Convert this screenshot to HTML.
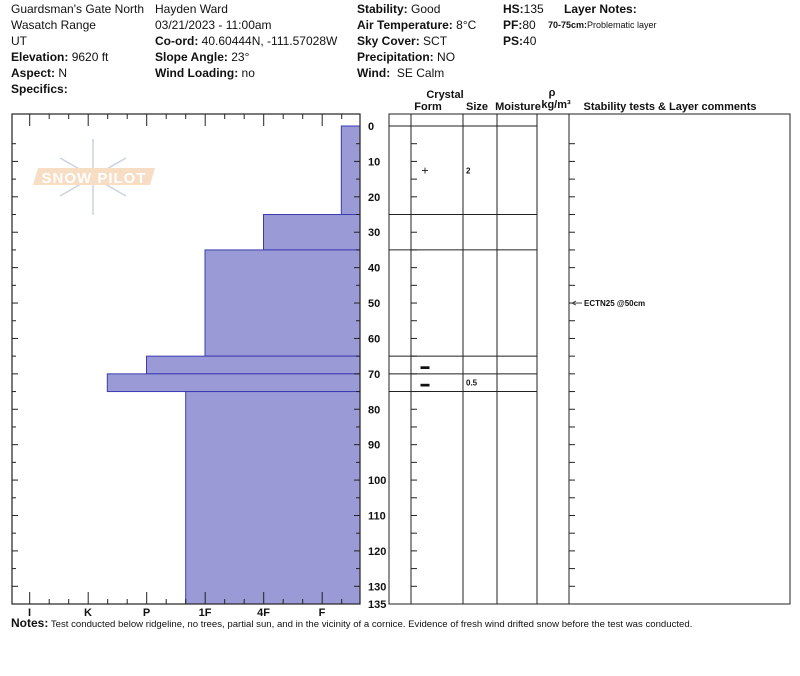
<!DOCTYPE html>
<html><head><meta charset="utf-8"><style>
body{margin:0;background:#fff;width:800px;height:676px;overflow:hidden;font-family:"Liberation Sans",Arial,sans-serif;}
.h{position:absolute;font-size:12px;color:#111;white-space:nowrap;line-height:14px}
b{font-weight:bold}
svg{position:absolute;left:0;top:0}
</style></head><body>
<div class="h" style="left:11px;top:2px">Guardsman's Gate North</div>
<div class="h" style="left:11px;top:18px">Wasatch Range</div>
<div class="h" style="left:11px;top:34px">UT</div>
<div class="h" style="left:11px;top:50px"><b>Elevation:</b> 9620 ft</div>
<div class="h" style="left:11px;top:66px"><b>Aspect:</b> N</div>
<div class="h" style="left:11px;top:82px"><b>Specifics:</b></div>
<div class="h" style="left:155px;top:2px">Hayden Ward</div>
<div class="h" style="left:155px;top:18px">03/21/2023 - 11:00am</div>
<div class="h" style="left:155px;top:34px"><b>Co-ord:</b> 40.60444N, -111.57028W</div>
<div class="h" style="left:155px;top:50px"><b>Slope Angle:</b> 23°</div>
<div class="h" style="left:155px;top:66px"><b>Wind Loading:</b> no</div>
<div class="h" style="left:357px;top:2px"><b>Stability:</b> Good</div>
<div class="h" style="left:357px;top:18px"><b>Air Temperature:</b> 8°C</div>
<div class="h" style="left:357px;top:34px"><b>Sky Cover:</b> SCT</div>
<div class="h" style="left:357px;top:50px"><b>Precipitation:</b> NO</div>
<div class="h" style="left:357px;top:66px"><b>Wind:</b>&nbsp; SE Calm</div>
<div class="h" style="left:503px;top:2px"><b>HS:</b>135</div>
<div class="h" style="left:503px;top:18px"><b>PF:</b>80</div>
<div class="h" style="left:503px;top:34px"><b>PS:</b>40</div>
<div class="h" style="left:564px;top:2px"><b>Layer Notes:</b></div>
<div class="h" style="left:548px;top:18px;font-size:9px"><b>70-75cm:</b>Problematic layer</div>
<div class="h" style="left:11px;top:616px;font-size:9.6px"><b style="font-size:12px">Notes:</b> Test conducted below ridgeline, no trees, partial sun, and in the vicinity of a cornice. Evidence of fresh wind drifted snow before the test was conducted.</div>
<svg id="s" width="800" height="676"></svg>
<script>
const layerTops=[0,25,35,65,70,75];
const layerBottoms=[25,35,65,70,75,135];
const layerHardness=[5.33,4,3,2,1.33,2.67];
const hardLabels=["I","K","P","1F","4F","F"];
const depthTicks=[0,10,20,30,40,50,60,70,80,90,100,110,120,130,135];
const crystalDepths=[12.5,67.5,72.5];
const crystalSizes=["2","","0.5"];
const crystalForms=["+","▬","▬"];
const testDepths=[50];
const testLabels=["ECTN25 @50cm"];
const NS="http://www.w3.org/2000/svg",s=document.getElementById('s');
const y=d=>126+d*(478/135), x=h=>29.5+h*58.5;
function el(t,a,p){const e=document.createElementNS(NS,t);for(const k in a)e.setAttribute(k,a[k]);(p||s).appendChild(e);return e;}
function tx(t,a){const e=el('text',a);e.textContent=t;return e;}
// logo
const g=el('g',{opacity:0.75});


for(let i=0;i<6;i++){const a=i*Math.PI/3;el('line',{x1:93,y1:177,x2:93+38*Math.sin(a),y2:177-38*Math.cos(a),stroke:'#b8c4d4','stroke-width':1.5},g);}
el('polygon',{points:'38,168 155,168 150,185 33,185',fill:'#f3d2b0'},g);
const lt=el('text',{x:94,y:183,'text-anchor':'middle','font-size':15,fill:'#fff','font-weight':'bold','letter-spacing':1},g);lt.textContent='SNOW PILOT';
// bars
for(let i=0;i<layerTops.length;i++){const r=el('rect',{x:x(layerHardness[i]),y:y(layerTops[i]),width:360-x(layerHardness[i]),height:y(layerBottoms[i])-y(layerTops[i]),fill:'#9a9ad6',stroke:'#3b3bb0','stroke-width':1});

}
el('rect',{x:12,y:114,width:348,height:490,fill:'none',stroke:'#222','stroke-width':1.2});
// hardness ticks
for(let h=-0.33;h<=5.7;h+=1/3){const X=x(h);if(X<13||X>359)continue;const major=Math.abs(h-Math.round(h))<0.05;const L=major?12:5;el('line',{x1:X,y1:114,x2:X,y2:114+L,stroke:'#222'});el('line',{x1:X,y1:604,x2:X,y2:604-L,stroke:'#222'});}
hardLabels.forEach((l,i)=>{const t=tx(l,{x:x(i),y:616,'text-anchor':'middle','font-size':11,'font-weight':'bold',fill:'#111'});

});
// depth ticks
for(let d=5;d<=130;d+=5){const L=d%10==0?6:4;[12,360].forEach((bx,j)=>el('line',{x1:bx,y1:y(d),x2:j?bx-L:bx+L,y2:y(d),stroke:'#222'}));
[411,569].forEach(bx=>el('line',{x1:bx,y1:y(d),x2:bx+6,y2:y(d),stroke:'#222'}));}
depthTicks.forEach(d=>{const t=tx(d,{x:368,y:y(d)+4,'font-size':11,'font-weight':'bold',fill:'#111'});

});
// table
el('rect',{x:389,y:114,width:401,height:490,fill:'none',stroke:'#222'});
[411,463,497,537,569].forEach(X=>el('line',{x1:X,y1:114,x2:X,y2:604,stroke:'#222'}));
layerTops.concat([135]).forEach(d=>el('line',{x1:389,y1:y(d),x2:537,y2:y(d),stroke:'#222'}));
const hd=[["Crystal",445,98],["Form",428,110],["Size",477,110],["Moisture",518,110],["ρ",552,96],["kg/m³",556,108],["Stability tests & Layer comments",670,110]];
hd.forEach(a=>{const t=tx(a[0],{x:a[1],y:a[2],'text-anchor':'middle','font-size':11,'font-weight':'bold',fill:'#111'});

});
crystalDepths.forEach((d,i)=>{const t=tx(crystalForms[i],{x:425,y:y(d)+4,'text-anchor':'middle','font-size':crystalForms[i]=='+'?12:9,fill:'#111'});


if(crystalSizes[i]){const u=tx(crystalSizes[i],{x:466,y:y(d)+3,'font-size':8,'font-weight':'bold',fill:'#111'});

}});
testDepths.forEach((d,i)=>{el('line',{x1:572,y1:y(d),x2:582,y2:y(d),stroke:'#444'});el('path',{d:`M572 ${y(d)} l4 -2 M572 ${y(d)} l4 2`,stroke:'#444',fill:'none'});
const t=tx(testLabels[i],{x:584,y:y(d)+3,'font-size':8,'font-weight':'bold',fill:'#111'});

});
</script>
</body></html>
